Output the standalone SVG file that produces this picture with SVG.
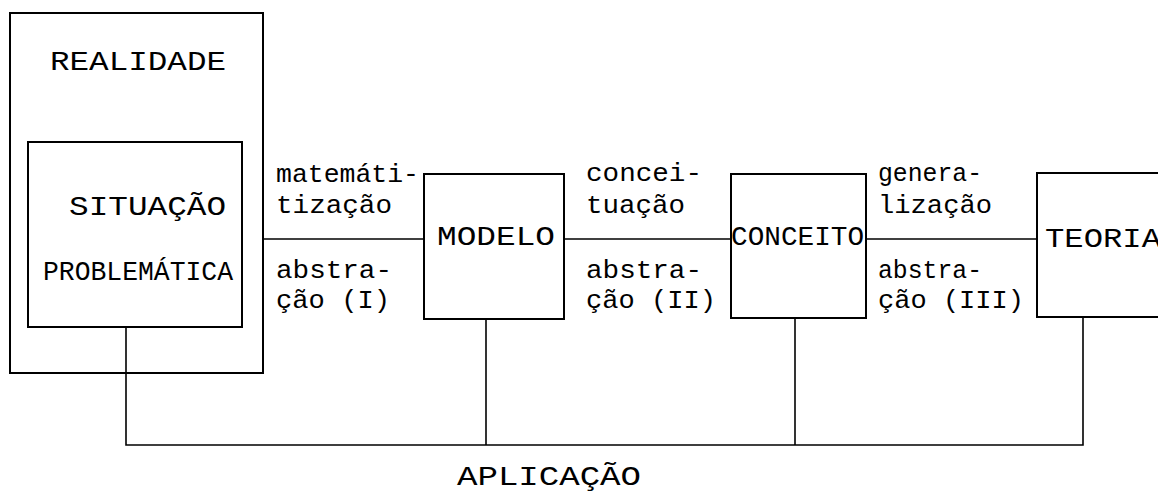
<svg xmlns="http://www.w3.org/2000/svg" width="1158" height="493" viewBox="0 0 1158 493">
<style>
.box{fill:none;stroke:#000;stroke-width:2}
.ln{fill:none;stroke:#000;stroke-width:1.6}
text{font-family:"Liberation Mono","DejaVu Sans Mono",monospace;fill:#000;font-size:28px;lengthAdjust:spacingAndGlyphs}
.sm{font-size:26px}
</style>
<rect width="1158" height="493" fill="#fff"/>
<g id="realidade">
<rect class="box" x="10" y="13" width="253" height="360"/>
<text x="50" y="70" textLength="176" lengthAdjust="spacingAndGlyphs">REALIDADE</text>
</g>
<g id="situacao">
<rect class="box" x="28" y="142" width="214" height="185"/>
<text x="69" y="215" textLength="157" lengthAdjust="spacingAndGlyphs">SITUAÇÃO</text>
<text x="43" y="280" textLength="190" lengthAdjust="spacingAndGlyphs">PROBLEMÁTICA</text>
</g>
<g id="modelo">
<rect class="box" x="424" y="174" width="140" height="145"/>
<text x="437" y="245" textLength="118" lengthAdjust="spacingAndGlyphs">MODELO</text>
</g>
<g id="conceito">
<rect class="box" x="731" y="174" width="135" height="144"/>
<text x="731" y="245" textLength="133" lengthAdjust="spacingAndGlyphs">CONCEITO</text>
</g>
<g id="teoria">
<rect class="box" x="1037" y="173" width="140" height="144"/>
<text x="1045" y="247" textLength="116" lengthAdjust="spacingAndGlyphs">TEORIA</text>
</g>
<g id="connectors">
<line class="ln" x1="263" y1="239" x2="424" y2="239"/>
<line class="ln" x1="564" y1="239" x2="731" y2="239"/>
<line class="ln" x1="866" y1="239" x2="1037" y2="239"/>
<polyline class="ln" points="126,327 126,445 1083,445 1083,317"/>
<line class="ln" x1="486" y1="319" x2="486" y2="445"/>
<line class="ln" x1="795" y1="318" x2="795" y2="445"/>
</g>
<g id="labels">
<text class="sm" x="276" y="182" textLength="143" lengthAdjust="spacingAndGlyphs">matemáti-</text>
<text class="sm" x="276" y="213" textLength="116" lengthAdjust="spacingAndGlyphs">tização</text>
<text class="sm" x="276" y="278" textLength="116" lengthAdjust="spacingAndGlyphs">abstra-</text>
<text class="sm" x="276" y="308" textLength="114" lengthAdjust="spacingAndGlyphs">ção (I)</text>
<text class="sm" x="586" y="181" textLength="116" lengthAdjust="spacingAndGlyphs">concei-</text>
<text class="sm" x="586" y="213" textLength="99" lengthAdjust="spacingAndGlyphs">tuação</text>
<text class="sm" x="586" y="278" textLength="116" lengthAdjust="spacingAndGlyphs">abstra-</text>
<text class="sm" x="586" y="308" textLength="130" lengthAdjust="spacingAndGlyphs">ção (II)</text>
<text class="sm" x="878" y="181" textLength="104" lengthAdjust="spacingAndGlyphs">genera-</text>
<text class="sm" x="878" y="213" textLength="114" lengthAdjust="spacingAndGlyphs">lização</text>
<text class="sm" x="878" y="278" textLength="104" lengthAdjust="spacingAndGlyphs">abstra-</text>
<text class="sm" x="878" y="308" textLength="146" lengthAdjust="spacingAndGlyphs">ção (III)</text>
<text x="457" y="485" textLength="184" lengthAdjust="spacingAndGlyphs">APLICAÇÃO</text>
</g>
</svg>
